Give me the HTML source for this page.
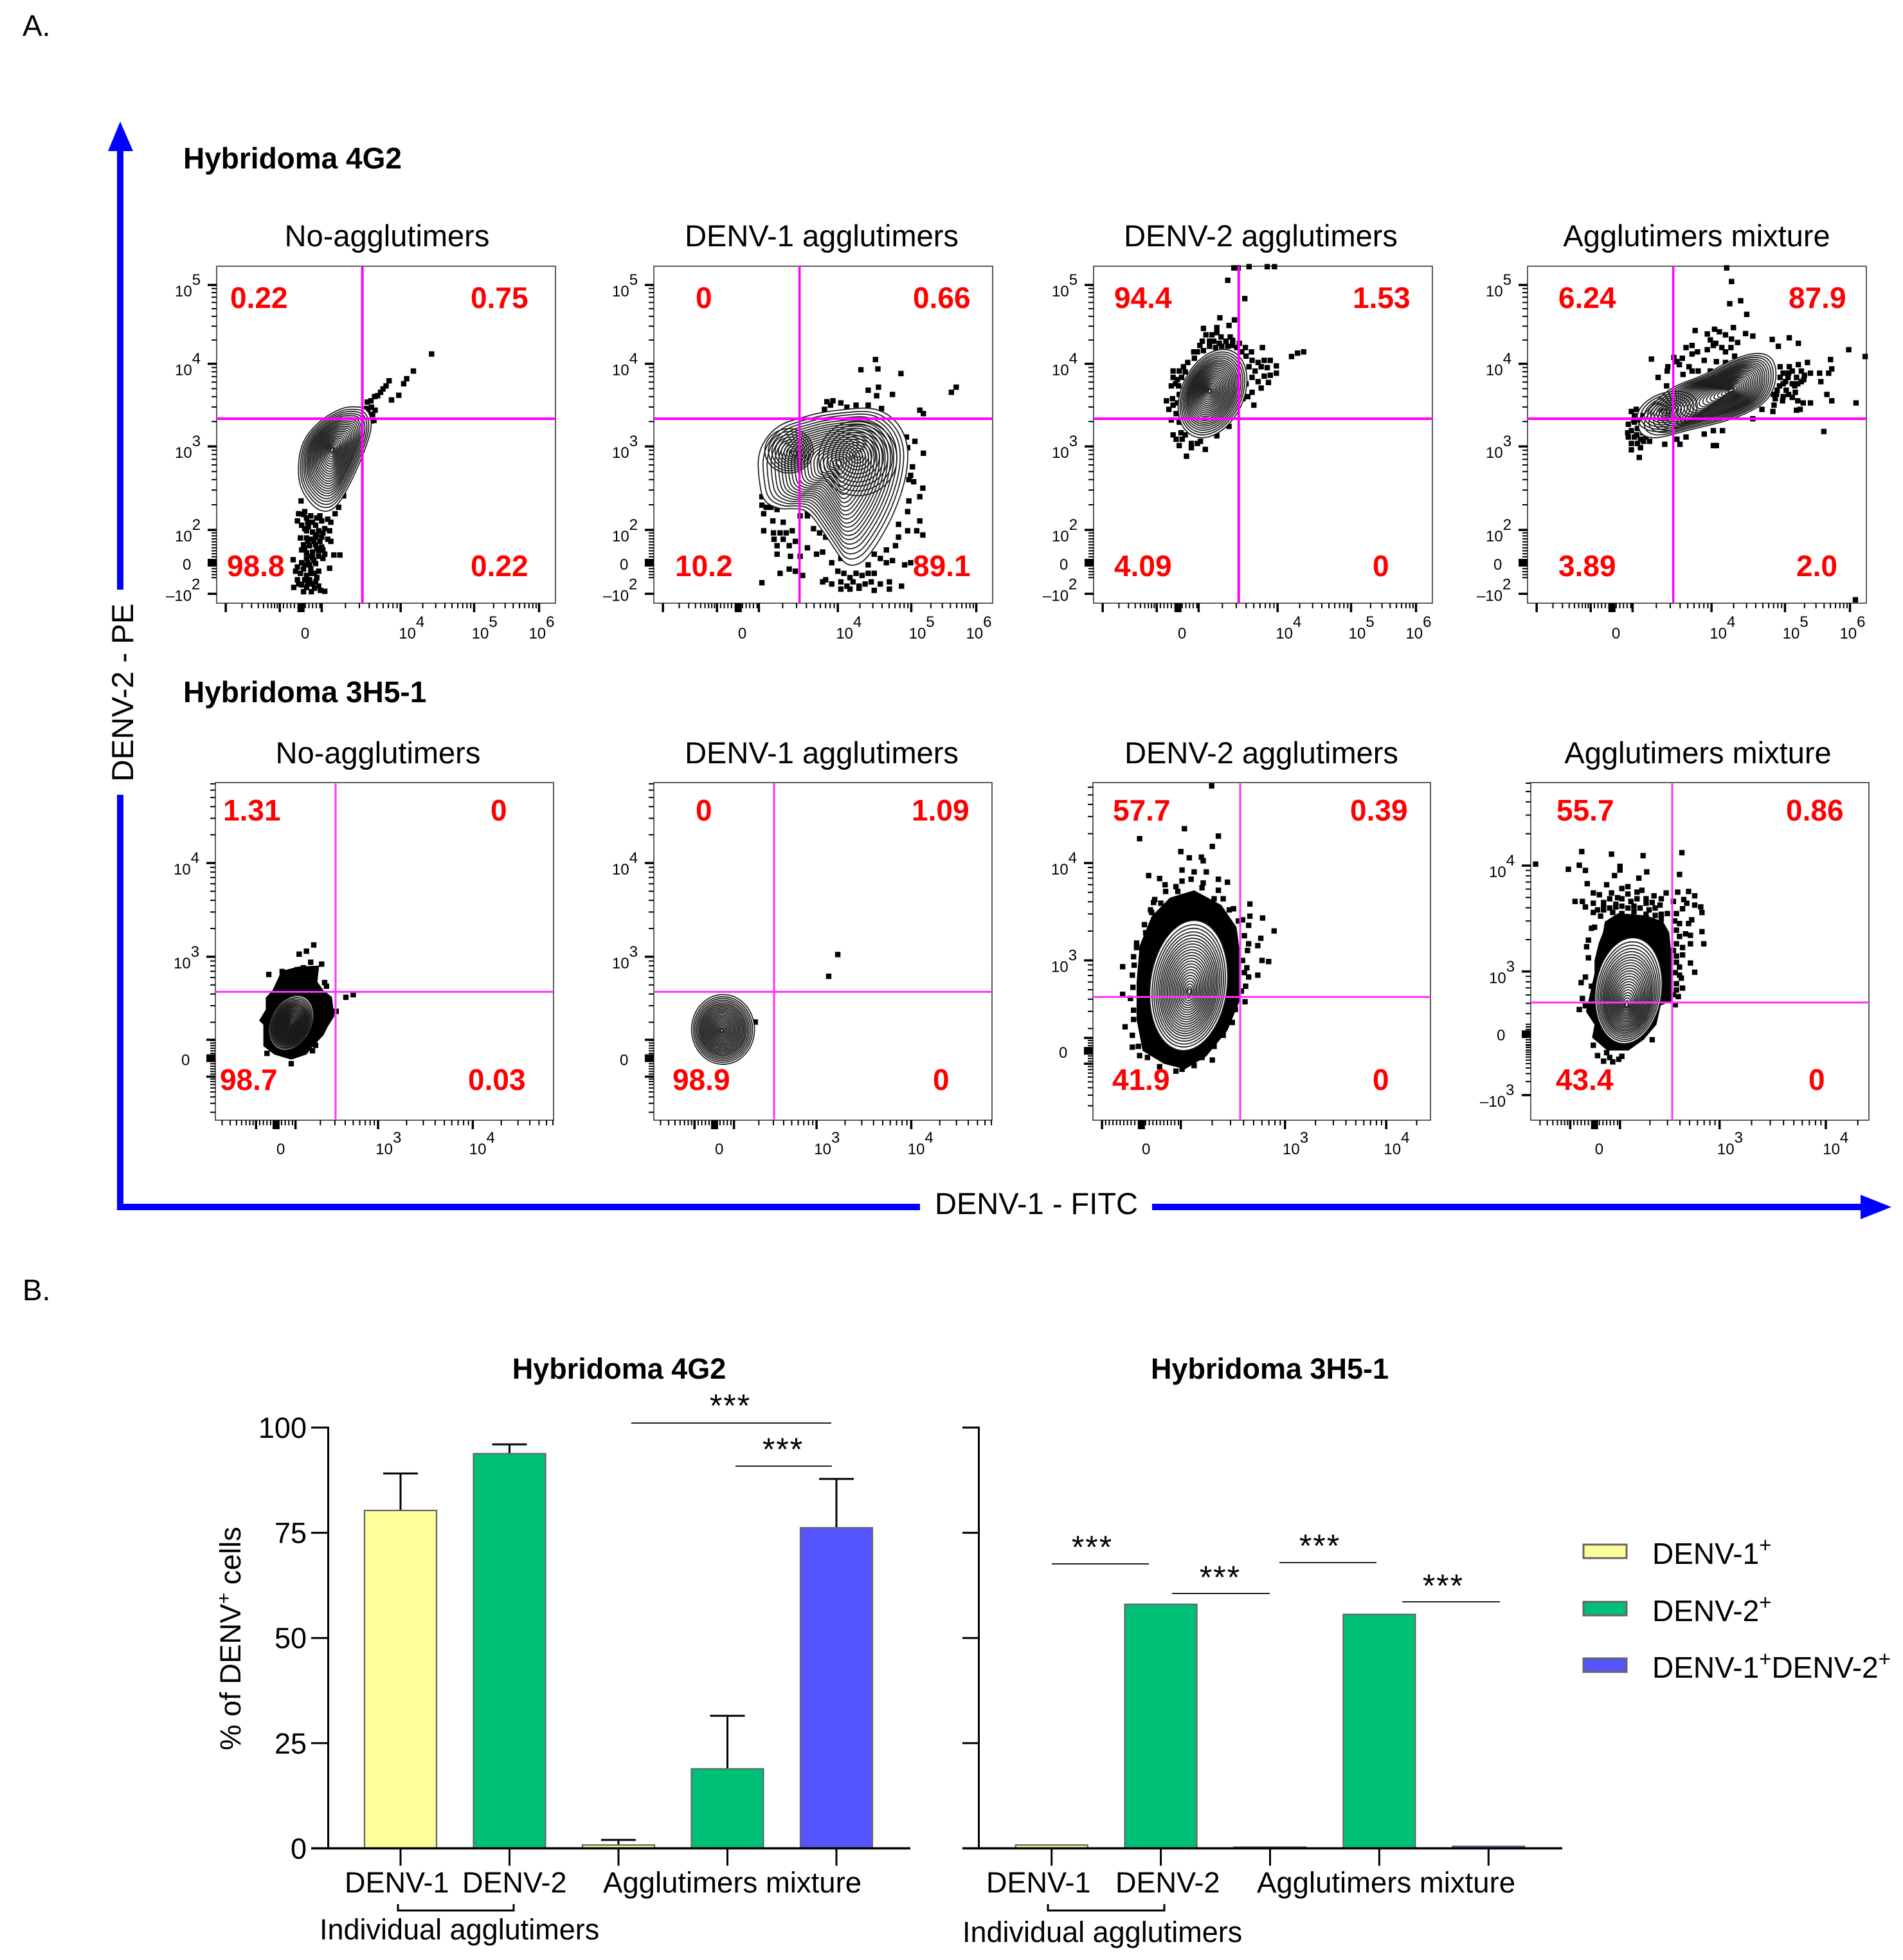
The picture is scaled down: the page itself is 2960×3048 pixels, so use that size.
<!DOCTYPE html>
<html lang="en">
<head>
<meta charset="utf-8">
<title>Flow cytometry of DENV agglutimers</title>
<style>
html,body{margin:0;padding:0;background:#fff}
svg{display:block}
text{font-family:"Liberation Sans",Arial,sans-serif;fill:#000}
.ttl{font-size:47px;text-anchor:middle}
.hyb{font-size:46px;font-weight:bold}
.q{font-size:46px;font-weight:bold;fill:#f00}
.bl{font-size:45px}
.st{font-size:50px;letter-spacing:2px}
</style>
</head>
<body>
<svg id="figure" xmlns="http://www.w3.org/2000/svg" width="2960" height="3048" viewBox="0 0 2960 3048">
<rect width="2960" height="3048" fill="#fff"/>
<text x="35" y="56" font-size="46">A.</text>
<text x="35" y="2022" font-size="46">B.</text>

<g>
<rect x="182" y="230" width="10" height="687" fill="#00f"/>
<rect x="182" y="1236" width="10" height="645" fill="#00f"/>
<polygon points="187,189 168,235 207,235" fill="#00f"/>
</g>
<g>
<rect x="182" y="1872" width="1249" height="10" fill="#00f"/>
<rect x="1792" y="1872" width="1110" height="10" fill="#00f"/>
<polygon points="2942,1877 2894,1858 2894,1896" fill="#00f"/>
</g>
<text transform="rotate(-90 207 1077)" x="207" y="1077" font-size="47.5" text-anchor="middle">DENV-2 - PE</text>
<text x="1612" y="1888" font-size="47" text-anchor="middle">DENV-1 - FITC</text>

<text x="285" y="262" class="hyb">Hybridoma 4G2</text>
<text x="285" y="1092" class="hyb">Hybridoma 3H5-1</text>

<g id="plots"></g>

<g>
<text x="602" y="383" class="ttl">No-agglutimers</text>
<text x="1278" y="383" class="ttl">DENV-1 agglutimers</text>
<text x="1961" y="383" class="ttl">DENV-2 agglutimers</text>
<text x="2639" y="383" class="ttl">Agglutimers mixture</text>
<text x="588" y="1187" class="ttl">No-agglutimers</text>
<text x="1278" y="1187" class="ttl">DENV-1 agglutimers</text>
<text x="1962" y="1187" class="ttl">DENV-2 agglutimers</text>
<text x="2641" y="1187" class="ttl">Agglutimers mixture</text>
</g>

<g>
<text class="q" x="358" y="479">0.22</text>
<text class="q" x="732" y="479">0.75</text>
<text class="q" x="353" y="896">98.8</text>
<text class="q" x="732" y="896">0.22</text>
<text class="q" x="1082" y="479">0</text>
<text class="q" x="1420" y="479">0.66</text>
<text class="q" x="1050" y="896">10.2</text>
<text class="q" x="1420" y="896">89.1</text>
<text class="q" x="1733" y="479">94.4</text>
<text class="q" x="2104" y="479">1.53</text>
<text class="q" x="1733" y="896">4.09</text>
<text class="q" x="2135" y="896">0</text>
<text class="q" x="2424" y="479">6.24</text>
<text class="q" x="2782" y="479">87.9</text>
<text class="q" x="2424" y="896">3.89</text>
<text class="q" x="2794" y="896">2.0</text>
<text class="q" x="347" y="1276">1.31</text>
<text class="q" x="763" y="1276">0</text>
<text class="q" x="342" y="1695">98.7</text>
<text class="q" x="728" y="1695">0.03</text>
<text class="q" x="1082" y="1276">0</text>
<text class="q" x="1418" y="1276">1.09</text>
<text class="q" x="1046" y="1695">98.9</text>
<text class="q" x="1451" y="1695">0</text>
<text class="q" x="1731" y="1276">57.7</text>
<text class="q" x="2100" y="1276">0.39</text>
<text class="q" x="1730" y="1695">41.9</text>
<text class="q" x="2135" y="1695">0</text>
<text class="q" x="2421" y="1276">55.7</text>
<text class="q" x="2778" y="1276">0.86</text>
<text class="q" x="2420" y="1695">43.4</text>
<text class="q" x="2813" y="1695">0</text>
</g>

<g id="bars"></g>

<text x="963" y="2144" class="bl" font-weight="bold" text-anchor="middle">Hybridoma 4G2</text>
<text x="1975" y="2144" class="bl" font-weight="bold" text-anchor="middle">Hybridoma 3H5-1</text>
<text transform="rotate(-90 374 2548)" x="374" y="2548" class="bl" text-anchor="middle">% of DENV<tspan dy="-16" font-size="30">+</tspan><tspan dy="16"> cells</tspan></text>

<g>
<text x="536" y="2943" class="bl">DENV-1</text>
<text x="719" y="2943" class="bl">DENV-2</text>
<text x="938" y="2943" font-size="45.5">Agglutimers mixture</text>
<path d="M619,2961V2971H799V2961" fill="none" stroke="#000" stroke-width="3"/>
<text x="497" y="3016" class="bl">Individual agglutimers</text>
<text x="1534" y="2943" class="bl">DENV-1</text>
<text x="1735" y="2943" class="bl">DENV-2</text>
<text x="1955" y="2943" font-size="45.5">Agglutimers mixture</text>
<path d="M1630,2961V2971H1811V2961" fill="none" stroke="#000" stroke-width="3"/>
<text x="1497" y="3020" class="bl">Individual agglutimers</text>
</g>

<g stroke="#222" stroke-width="2">
<line x1="982" y1="2213" x2="1293" y2="2213"/>
<line x1="1144" y1="2280" x2="1294" y2="2280"/>
<line x1="1636" y1="2432" x2="1787" y2="2432"/>
<line x1="1823" y1="2478" x2="1975" y2="2478"/>
<line x1="1990" y1="2430" x2="2141" y2="2430"/>
<line x1="2181" y1="2491" x2="2333" y2="2491"/>
</g>
<g text-anchor="middle">
<text class="st" x="1136" y="2203">***</text>
<text class="st" x="1218" y="2271">***</text>
<text class="st" x="1699" y="2423">***</text>
<text class="st" x="1898" y="2470">***</text>
<text class="st" x="2053" y="2421">***</text>
<text class="st" x="2245" y="2483">***</text>
</g>

<g>
<rect x="2463" y="2402" width="67" height="21" fill="#ffff99" stroke="#666" stroke-width="3"/>
<rect x="2463" y="2491" width="67" height="21" fill="#00bf77" stroke="#666" stroke-width="3"/>
<rect x="2463" y="2579" width="67" height="21" fill="#5555ff" stroke="#666" stroke-width="3"/>
<text x="2570" y="2432" font-size="46">DENV-1<tspan dy="-18" font-size="33">+</tspan></text>
<text x="2570" y="2521" font-size="46">DENV-2<tspan dy="-18" font-size="33">+</tspan></text>
<text x="2570" y="2609" font-size="46">DENV-1<tspan dy="-18" font-size="33">+</tspan><tspan dy="18">DENV-2</tspan><tspan dy="-18" font-size="33">+</tspan></text>
</g>
</svg>

<script>
/* ---------- flow cytometry data: acquisition channels (x, y) ---------- */
const r1XTicks=[15,104,139,173,303,424,531];
const r1XLabels=["0","10^4","10^5","10^6"];
const r1XLabelChannels=[146,300,420,514];
const r1XDecades=[[173,303],[303,424],[424,531],[531,638],[15,104]];
const r1XDense=[104,173];
const r1XZero=139;
const r1YTicks=[747,562,368,172,95,22];
const r1YLabels=["10^5","10^4","10^3","10^2","0","-10^2"];
const r1YLabelChannels=[747,562,368,172,95,22];
const r1YDecades=[[172,368],[368,562],[562,747],[747,932]];
const r1YDense=[60,172];
const r1YZero=95;

const r2XTicks=[67,132,268,424];
const r2XLabels=["0","10^3","10^4"];
const r2XLabelChannels=[108,264,418];
const r2XDecades=[[132,268],[268,424],[424,580],[-40,67]];
const r2XDense=[67,132];
const r2XZero=100;
const r2YTicks=[697,443,218,118];
const r2YLabels=["10^4","10^3","0"];
const r2YLabelChannels=[697,443,168];
const r2YDecades=[[189,443],[443,697],[697,951],[-20,118]];
const r2YDense=[118,218];
const r2YZero=168;

const r2p3XTicks=[15,145,317,484];
const r2p3XLabels=["0","10^3","10^4"];
const r2p3XLabelChannels=[88,313,480];
const r2p3XDecades=[[145,317],[317,484],[484,651]];
const r2p3XDense=[15,145];
const r2p3XZero=80;
const r2p3YTicks=[697,433,223,153];
const r2p3YLabels=["10^4","10^3","0"];
const r2p3YLabelChannels=[697,433,188];
const r2p3YDecades=[[169,433],[433,697],[697,961],[-10,153]];
const r2p3YDense=[153,223];
const r2p3YZero=188;

const r2p4XTicks=[65,147,311,486];
const r2p4XLabels=["0","10^3","10^4"];
const r2p4XLabelChannels=[113,307,481];
const r2p4XDecades=[[147,311],[311,486],[486,661],[-30,65]];
const r2p4XDense=[65,147];
const r2p4XZero=105;
const r2p4YTicks=[690,403,230,68];
const r2p4YLabels=["10^4","10^3","0","-10^3"];
const r2p4YLabelChannels=[690,403,235,68];
const r2p4YDecades=[[116,403],[403,690],[690,977],[68,190]];
const r2p4YDense=[190,260];
const r2p4YZero=233;

const contourLevels=[1,.94,.89,.84,.795,.75,.71,.67,.63,.59,.55,.51,.47,.43,.39,.35,.31,.27,.23,.19,.15,.11,.07,.04];
const lobeLevels=[.95,.84,.73,.63,.53,.44,.35,.27,.19,.12,.06];

const r1p1Points=[[354,585],[324,545],[313,527],[308,515],[300,488],[288,477],[284,522],[279,510],[274,503],[270,495],[265,487],[260,485],[254,475],[248,472],[247,457],[255,460],[261,453],[249,447],[257,443],[259,429],[255,428],[139,240],[209,252],[201,225],[195,210],[135,210],[143,208],[148,200],[158,190],[133,193],[140,183],[151,180],[163,183],[173,193],[183,197],[188,190],[148,170],[158,167],[168,170],[178,175],[186,170],[138,153],[148,153],[155,150],[163,155],[173,155],[183,150],[143,137],[153,135],[163,137],[173,132],[188,145],[140,125],[148,118],[158,120],[168,123],[178,115],[193,113],[203,113],[148,105],[158,107],[168,110],[126,102],[153,90],[163,93],[133,85],[143,80],[155,80],[186,82],[138,70],[148,65],[161,70],[168,75],[133,55],[153,55],[163,50],[168,40],[140,43],[127,37],[148,37],[161,35],[178,28],[143,27],[156,27],[171,30],[145,215],[155,205],[165,200],[150,190],[170,205],[145,175],[165,160],[175,165],[150,145],[160,145],[170,145],[145,130],[165,128],[155,110],[175,105],[150,95],[160,100],[145,90],[155,70],[165,60],[145,55],[150,45],[135,45],[158,45],[140,95],[130,75],[175,125]];
const r1p1Outline=[[225,462],[248,458],[257,420],[246,365],[222,285],[195,218],[168,214],[141,258],[133,305],[139,378],[170,430],[205,458]];

const r1p2Points=[[365,572],[341,548],[369,550],[407,539],[370,507],[353,500],[367,487],[393,490],[438,453],[444,445],[490,495],[498,507],[285,473],[295,475],[308,470],[281,455],[291,465],[318,460],[333,465],[353,465],[375,457],[416,390],[430,380],[418,365],[444,352],[426,320],[423,300],[420,290],[443,270],[438,250],[420,240],[428,285],[418,215],[403,185],[438,193],[418,170],[433,170],[443,160],[403,155],[178,250],[178,230],[185,225],[193,225],[203,220],[181,210],[213,190],[196,193],[181,170],[197,165],[208,165],[218,165],[228,170],[198,150],[213,150],[233,145],[203,135],[223,135],[203,115],[225,110],[241,110],[253,130],[268,115],[278,120],[263,175],[273,165],[283,155],[253,215],[241,205],[253,205],[223,80],[208,70],[233,75],[178,48],[245,65],[283,55],[293,95],[308,105],[303,75],[313,70],[323,60],[333,70],[343,65],[353,70],[363,70],[278,50],[293,45],[308,50],[318,40],[328,50],[338,40],[348,45],[358,50],[373,45],[388,50],[308,33],[323,33],[338,35],[363,30],[388,33],[408,40],[363,115],[383,125],[398,135],[383,95],[393,100],[373,105],[413,90],[423,95],[353,90]];
const r1p2Outline=[[240,434],[272,447],[314,455],[360,460],[392,439],[413,399],[420,349],[413,279],[392,198],[363,128],[342,92],[317,87],[300,123],[279,168],[254,218],[229,223],[208,220],[180,238],[173,289],[171,349],[187,394],[211,422]];
const r1p2LeftLobe=[222,358,42,55,0];
const r1p2RightLobe=[336,340,68,93,0];

const r1p3Points=[[238,787],[231,787],[256,790],[286,790],[298,790],[221,758],[249,715],[208,670],[232,665],[223,652],[181,645],[203,647],[203,635],[179,615],[191,615],[198,615],[207,610],[218,615],[229,617],[191,603],[201,600],[211,603],[221,603],[229,605],[236,600],[171,590],[181,593],[166,575],[278,600],[346,590],[336,587],[326,579],[244,590],[251,580],[261,570],[271,565],[281,570],[291,570],[301,557],[276,555],[286,553],[256,555],[266,545],[301,540],[291,535],[281,533],[271,520],[261,530],[251,515],[276,505],[261,495],[254,485],[264,465],[288,518],[131,545],[141,545],[151,543],[131,530],[138,525],[128,510],[120,475],[141,490],[131,465],[124,455],[136,445],[128,430],[141,425],[131,395],[144,400],[151,395],[136,385],[146,385],[161,375],[171,375],[176,380],[141,370],[161,365],[184,361],[153,345],[223,415],[203,393],[246,480],[185,630],[195,630],[210,625],[225,625],[175,605],[240,610],[250,600],[165,590],[155,565],[148,555],[145,530],[135,515],[130,480],[140,510],[138,470],[260,590]];
const r1p3Contour=[196,492,54,104,.17];

const r1p4Points=[[328,787],[336,755],[351,710],[333,703],[361,678],[276,640],[308,643],[316,637],[339,647],[296,632],[326,630],[359,633],[301,618],[346,612],[336,620],[371,627],[403,619],[431,623],[446,610],[413,603],[271,605],[261,600],[306,605],[241,577],[271,585],[296,595],[326,590],[341,580],[204,573],[291,570],[311,567],[326,565],[246,567],[266,555],[281,545],[231,555],[256,537],[301,545],[229,510],[271,545],[416,555],[431,555],[446,560],[461,565],[499,572],[529,595],[556,579],[421,540],[436,545],[451,545],[466,540],[481,540],[501,550],[496,540],[416,530],[429,530],[443,530],[456,535],[483,520],[421,515],[436,515],[451,520],[411,500],[426,500],[441,495],[421,485],[408,480],[436,483],[493,490],[501,475],[454,470],[466,470],[541,470],[406,465],[449,455],[386,455],[404,450],[443,453],[371,433],[488,403],[540,8],[171,450],[179,455],[176,440],[166,420],[176,425],[171,405],[181,410],[166,390],[176,390],[186,385],[171,375],[181,375],[191,380],[186,365],[171,360],[184,342],[201,380],[226,373],[251,373],[291,397],[306,405],[321,405],[306,370],[311,370],[261,390],[246,385],[425,520],[440,510],[430,540],[445,515],[455,525],[415,510],[410,490],[420,475],[430,490],[445,475],[405,490],[310,610],[320,600],[335,600],[280,590],[255,575],[250,560],[230,545],[215,530],[190,440],[185,430],[175,430],[165,400],[180,395],[195,390],[190,400]];
const r1p4Outline=[[181,425],[211,475],[241,510],[291,535],[341,575],[381,590],[406,575],[411,525],[396,475],[361,445],[321,425],[261,405],[211,385],[186,395]];
const r1p4Lobe=[230,450,50,50,.3];

const r2p1Points=[[162,475],[150,458],[138,450],[88,395],[110,403],[135,408],[157,428],[175,423],[180,373],[183,363],[215,333],[227,340],[199,295],[125,153],[145,413],[120,393],[165,203],[160,188],[85,181]];
const r2p1Halo=[[108,404],[136,416],[171,419],[168,375],[178,352],[192,334],[196,282],[185,253],[178,230],[161,201],[150,178],[125,164],[97,178],[79,201],[79,259],[72,270],[83,300],[83,332],[94,352],[104,387]];
const r2p1Contour=[125,264,35,74,.14];

const r2p2Points=[[167,266],[303,449],[288,390]];
const r2p2Contour=[114,246,52,95,0];

const r2p3Points=[[196,906],[151,790],[207,770],[77,763],[197,742],[145,728],[159,711],[179,713],[182,703],[147,678],[167,673],[187,673],[92,663],[110,655],[207,653],[222,645],[119,638],[147,648],[137,633],[162,653],[182,643],[102,598],[112,588],[207,623],[97,563],[259,586],[232,573],[259,553],[280,548],[257,528],[299,513],[247,543],[277,493],[257,478],[272,473],[87,508],[72,468],[49,416],[279,433],[290,430],[254,413],[272,393],[257,388],[252,363],[49,341],[251,321],[53,253],[65,198],[77,175],[197,163],[167,148],[137,133],[147,138],[237,453],[247,433],[67,443],[65,393],[237,388],[67,298],[67,273],[200,600],[180,630],[140,620],[120,620],[100,590],[95,570],[215,600],[225,570],[240,540],[250,500],[255,460],[250,400],[245,350],[235,300],[230,265],[215,230],[200,200],[180,170],[110,145],[90,170],[75,200],[65,230],[62,330],[66,360],[68,420],[72,480],[85,530]];
const r2p3Halo=[[127,603],[167,623],[212,583],[237,523],[245,423],[242,323],[222,243],[187,173],[152,138],[117,153],[82,188],[72,273],[72,373],[77,473],[97,553]];
const r2p3Contour=[158,365,64,177,.05];

const r2p4Points=[[8,694],[84,728],[133,721],[185,717],[249,725],[80,691],[62,680],[90,677],[147,688],[147,678],[191,673],[245,666],[138,663],[178,656],[93,641],[125,638],[150,628],[160,633],[183,623],[103,616],[113,611],[133,616],[143,603],[160,613],[175,618],[203,608],[223,616],[242,618],[260,620],[252,598],[270,608],[73,593],[85,593],[103,588],[90,578],[120,583],[140,578],[165,593],[190,588],[213,583],[235,593],[257,588],[270,583],[280,578],[282,563],[250,573],[265,543],[245,533],[260,533],[103,563],[115,553],[135,563],[190,558],[215,558],[105,523],[95,488],[282,511],[263,501],[245,498],[285,478],[263,478],[250,468],[240,478],[250,448],[240,428],[263,426],[270,401],[245,393],[90,388],[83,373],[100,363],[240,353],[250,358],[238,313],[103,203],[125,183],[150,173],[200,218],[110,570],[120,570],[130,575],[140,585],[150,580],[160,575],[170,580],[180,575],[195,570],[205,575],[120,590],[130,600],[150,600],[175,600],[190,600],[200,590],[215,600],[150,560],[170,565],[205,555],[215,545],[225,560],[240,560],[237,540],[240,515],[255,505],[235,460],[240,445],[245,415],[238,400],[240,370],[248,385],[235,340],[243,335],[100,520],[92,470],[95,440],[85,330],[90,310],[80,300],[110,175],[130,170],[145,165],[120,160],[135,158]];
const r2p4Halo=[[122,538],[144,561],[190,555],[218,538],[228,509],[232,445],[232,323],[214,311],[207,259],[186,218],[161,189],[126,189],[101,224],[105,259],[91,294],[98,346],[105,398],[105,433],[112,480],[119,509]];
const r2p4Contour=[161,351,55,144,.05];

/* ---------- bar chart data (percent) ---------- */
const barCategories=["DENV-1","DENV-2","Mixture DENV-1+","Mixture DENV-2+","Mixture double+"];
const barSeriesIndex=[0,1,0,1,2];
const barYTicks=[0,25,50,75,100];
const barYTickLabels=["0","25","50","75","100"];
const values4G2=[80.3,93.8,0.8,18.9,76.2];
const errors4G2=[8.8,2.2,1.2,12.6,11.6];
const values3H5=[0.8,58,0.3,55.6,0.5];
const errors3H5=[0,0,0,0,0];

/* ---------- helpers ---------- */
const NS='http://www.w3.org/2000/svg';
function mk(tag,attrs,parent){
  const el=document.createElementNS(NS,tag);
  for(const k in attrs)el.setAttribute(k,attrs[k]);
  parent.appendChild(el);
  return el;
}
function smoothPath(pts){
  const n=pts.length;
  const mid=(a,b)=>[(a[0]+b[0])/2,(a[1]+b[1])/2];
  const s=mid(pts[n-1],pts[0]);
  let d='M'+s[0].toFixed(1)+','+s[1].toFixed(1);
  for(let i=0;i<n;i++){
    const m=mid(pts[i],pts[(i+1)%n]);
    d+='Q'+pts[i][0].toFixed(1)+','+pts[i][1].toFixed(1)+' '+m[0].toFixed(1)+','+m[1].toFixed(1);
  }
  return d+'Z';
}
function straightPath(pts){
  return 'M'+pts.map(q=>q[0].toFixed(1)+','+q[1].toFixed(1)).join('L')+'Z';
}
function ellipseOutline(spec){
  const [cx,cy,rx,ry,skew]=spec;
  const out=[];
  for(let i=0;i<36;i++){
    const t=i/36*2*Math.PI;
    out.push([cx+rx*Math.cos(t)+skew*ry*Math.sin(t),cy+ry*Math.sin(t)]);
  }
  return out;
}
function minorTicks(decades,max){
  const out=[];
  decades.forEach(pair=>{
    for(let d=2;d<=9;d++){
      const c=pair[0]+Math.log10(d)*(pair[1]-pair[0]);
      if(c>=0&&c<=max)out.push(c);
    }
  });
  return out;
}
function denseTicks(range,step){
  const out=[];
  for(let c=range[0];c<=range[1];c+=step)out.push(c);
  return out;
}
function addTickLabel(parent,x,y,label){
  const t=mk('text',{x:x,y:y,'font-size':24},parent);
  
  
  const parts=label.split('^');
  t.appendChild(document.createTextNode(parts[0].replace('-','\u2013')));
  if(parts[1]){
    const s=mk('tspan',{dy:-18},t);
    s.textContent=parts[1];
  }
}

/* ---------- flow plots ---------- */
const rowOneAxes={xTicks:r1XTicks,xLabels:r1XLabels,xLabelCh:r1XLabelChannels,xDec:r1XDecades,xDense:r1XDense,xZero:r1XZero,yTicks:r1YTicks,yLabels:r1YLabels,yLabelCh:r1YLabelChannels,yDec:r1YDecades,yDense:r1YDense,yZero:r1YZero,xMax:558,yMax:791,labelBase:993};
const rowTwoAxes={xTicks:r2XTicks,xLabels:r2XLabels,xLabelCh:r2XLabelChannels,xDec:r2XDecades,xDense:r2XDense,xZero:r2XZero,yTicks:r2YTicks,yLabels:r2YLabels,yLabelCh:r2YLabelChannels,yDec:r2YDecades,yDense:r2YDense,yZero:r2YZero,xMax:557,yMax:915,labelBase:1795};
const rowTwoP3Axes={xTicks:r2p3XTicks,xLabels:r2p3XLabels,xLabelCh:r2p3XLabelChannels,xDec:r2p3XDecades,xDense:r2p3XDense,xZero:r2p3XZero,yTicks:r2p3YTicks,yLabels:r2p3YLabels,yLabelCh:r2p3YLabelChannels,yDec:r2p3YDecades,yDense:r2p3YDense,yZero:r2p3YZero,xMax:557,yMax:915,labelBase:1795};
const rowTwoP4Axes={xTicks:r2p4XTicks,xLabels:r2p4XLabels,xLabelCh:r2p4XLabelChannels,xDec:r2p4XDecades,xDense:r2p4XDense,xZero:r2p4XZero,yTicks:r2p4YTicks,yLabels:r2p4YLabels,yLabelCh:r2p4YLabelChannels,yDec:r2p4YDecades,yDense:r2p4YDense,yZero:r2p4YZero,xMax:557,yMax:915,labelBase:1795};

const panels=[
 {name:'4g2-none',box:[337,414,864,938],axes:rowOneAxes,gate:[240,433],lw:4,vw:4,points:r1p1Points,
  blobs:[{outline:r1p1Outline,peak:[190,360],levels:contourLevels}]},
 {name:'4g2-denv1',box:[1017,414,1544,938],axes:rowOneAxes,gate:[240,433],lw:4,vw:3.5,points:r1p2Points,
  blobs:[{outline:r1p2Outline,peak:[305,330],levels:contourLevels},
         {outline:ellipseOutline(r1p2LeftLobe),peak:[233,351],levels:lobeLevels},
         {outline:ellipseOutline(r1p2RightLobe),peak:[335,348],levels:lobeLevels}]},
 {name:'4g2-denv2',box:[1701,414,2228,938],axes:rowOneAxes,gate:[239,433],lw:4,vw:4,points:r1p3Points,
  blobs:[{outline:ellipseOutline(r1p3Contour),peak:[191,498],levels:contourLevels}]},
 {name:'4g2-mixture',box:[2376,414,2903,938],axes:rowOneAxes,gate:[240,433],lw:4,vw:3.5,points:r1p4Points,
  blobs:[{outline:r1p4Outline,peak:[336,500],levels:contourLevels},
         {outline:ellipseOutline(r1p4Lobe),peak:[231,450],levels:lobeLevels}]},
 {name:'3h5-none',box:[335,1217,861,1742],axes:rowTwoAxes,gate:[198,348],lw:3,vw:3,points:r2p1Points,halo:r2p1Halo,
  blobs:[{outline:ellipseOutline(r2p1Contour),peak:[123,255],levels:contourLevels}]},
 {name:'3h5-denv1',box:[1017,1217,1543,1742],axes:rowTwoAxes,gate:[198,348],lw:3,vw:3,points:r2p2Points,
  blobs:[{outline:ellipseOutline(r2p2Contour),peak:[112,243],levels:contourLevels}]},
 {name:'3h5-denv2',box:[1700,1217,2225,1742],axes:rowTwoP3Axes,gate:[243,334],lw:3,vw:3,points:r2p3Points,halo:r2p3Halo,
  blobs:[{outline:ellipseOutline(r2p3Contour),peak:[159,348],levels:contourLevels}]},
 {name:'3h5-mixture',box:[2381,1217,2907,1742],axes:rowTwoP4Axes,gate:[233,319],lw:3,vw:3,points:r2p4Points,halo:r2p4Halo,
  blobs:[{outline:ellipseOutline(r2p4Contour),peak:[158,311],levels:contourLevels}]}
];

const plotsRoot=document.getElementById('plots');
panels.forEach(p=>{
  const [L,T,R,B]=p.box;
  const ax=p.axes;
  const xs=c=>L+c/ax.xMax*(R-L);
  const ys=c=>B-c/ax.yMax*(B-T);
  const g=mk('g',{},plotsRoot);
  
  

  const frame=mk('rect',{x:L,y:T,width:R-L,height:B-T,fill:'#fff',stroke:'#333','stroke-width':1.6},g);
  
  

  /* events */
  p.points.forEach(pt=>{
    const dot=mk('rect',{x:(xs(pt[0])-4.2).toFixed(1),y:(ys(pt[1])-4.2).toFixed(1),width:8.4,height:8.4,fill:'#000'},g);
    
    
  });
  if(p.halo){
    const halo=mk('path',{d:straightPath(p.halo.map(q=>[xs(q[0]),ys(q[1])])),fill:'#000'},g);
    
    
  }
  /* contours */
  p.blobs.forEach((blob,bi)=>{
    blob.levels.forEach((lv,li)=>{
      const poly=blob.outline.map(q=>[xs(blob.peak[0]+(q[0]-blob.peak[0])*lv),ys(blob.peak[1]+(q[1]-blob.peak[1])*lv)]);
      const fillIt=(bi===0&&li===0);
      const c=mk('path',{d:smoothPath(poly),fill:fillIt?'#fff':'none',stroke:'#1a1a1a','stroke-width':1.7},g);
      
      
    });
  });
  /* quadrant gate */
  const gateColor=p.vw<3.2?'#ff33ff':'#ff00ff';
  const vg=mk('line',{x1:xs(p.gate[0]),y1:T,x2:xs(p.gate[0]),y2:B,stroke:gateColor,'stroke-width':p.vw},g);
  
  
  const hg=mk('line',{x1:L,y1:ys(p.gate[1]),x2:R,y2:ys(p.gate[1]),stroke:gateColor,'stroke-width':p.lw},g);
  
  

  /* axes */
  const tg=mk('g',{stroke:'#000'},g);
  
  
  minorTicks(ax.xDec,ax.xMax).concat(denseTicks(ax.xDense,6)).forEach(c=>{
    const t=mk('line',{x1:xs(c),y1:B,x2:xs(c),y2:B+8,'stroke-width':2},tg);
    
    
  });
  ax.xTicks.forEach(c=>{
    const t=mk('line',{x1:xs(c),y1:B,x2:xs(c),y2:B+14,'stroke-width':3.5},tg);
    
    
  });
  const xz=mk('line',{x1:xs(ax.xZero),y1:B,x2:xs(ax.xZero),y2:B+14,'stroke-width':11},tg);
  
  
  minorTicks(ax.yDec,ax.yMax).concat(denseTicks(ax.yDense,7)).forEach(c=>{
    const t=mk('line',{x1:L,y1:ys(c),x2:L-8,y2:ys(c),'stroke-width':2},tg);
    
    
  });
  ax.yTicks.forEach(c=>{
    const t=mk('line',{x1:L,y1:ys(c),x2:L-14,y2:ys(c),'stroke-width':3.5},tg);
    
    
  });
  const yz=mk('line',{x1:L,y1:ys(ax.yZero),x2:L-14,y2:ys(ax.yZero),'stroke-width':12},tg);
  
  
  ax.xLabels.forEach((lab,i)=>{
    const c=ax.xLabelCh[i];
    addTickLabel(g,lab==='0'?xs(c)-7:xs(c),ax.labelBase,lab);
  });
  ax.yLabels.forEach((lab,i)=>{
    const c=ax.yLabelCh[i];
    const y=ys(c);
    if(lab==='0')addTickLabel(g,L-53,y+11,lab);
    else if(lab[0]==='-')addTickLabel(g,L-79,y+(lab==='-10^2'?11:18),lab);
    else addTickLabel(g,L-65,y+18,lab);
  });
});

/* ---------- bar charts ---------- */
const barRoot=document.getElementById('bars');
const seriesFill=['#ffff99','#00bf77','#5555ff'];
const barBaseY=2874.4;
const barY=v=>barBaseY-v*6.544;
function drawBars(name,axisX,firstX,step,axisEnd,tickLeft,values,errors,withLabels){
  const barX=i=>firstX+step*i;
  const g=mk('g',{},barRoot);
  
  
  barCategories.forEach((cat,i)=>{
    const top=barY(values[i]);
    if(errors[i]>0){
      const stem=mk('line',{x1:barX(i),y1:top,x2:barX(i),y2:barY(values[i]+errors[i]),stroke:'#000','stroke-width':3},g);
      
      
      const cap=mk('line',{x1:barX(i)-27,y1:barY(values[i]+errors[i]),x2:barX(i)+27,y2:barY(values[i]+errors[i]),stroke:'#000','stroke-width':3},g);
      
      
    }
    const r=mk('rect',{x:barX(i)-56,y:top,width:112,height:barBaseY-top,fill:seriesFill[barSeriesIndex[i]],stroke:'#666','stroke-width':2.2},g);
    
    
    const xt=mk('line',{x1:barX(i),y1:barBaseY,x2:barX(i),y2:barBaseY+27,stroke:'#000','stroke-width':3},g);
    
    
  });
  const yAxis=mk('line',{x1:axisX,y1:barY(100)-1.5,x2:axisX,y2:barBaseY,stroke:'#000','stroke-width':3},g);
  
  
  const xAxis=mk('line',{x1:tickLeft,y1:barBaseY,x2:axisEnd,y2:barBaseY,stroke:'#000','stroke-width':3.5},g);
  
  
  barYTicks.forEach((v,i)=>{
    const t=mk('line',{x1:tickLeft,y1:barY(v),x2:axisX,y2:barY(v),stroke:'#000','stroke-width':3},g);
    
    
    if(withLabels){
      const lab=mk('text',{x:477,y:barY(v)+16,'font-size':45,'text-anchor':'end'},g);
      
      
      lab.textContent=barYTickLabels[i];
    }
  });
}
drawBars('4g2',510.5,623,169.5,1416,484,values4G2,errors4G2,true);
drawBars('3h5',1522.5,1635.7,169.9,2430,1497,values3H5,errors3H5,false);
</script>
</body>
</html>
